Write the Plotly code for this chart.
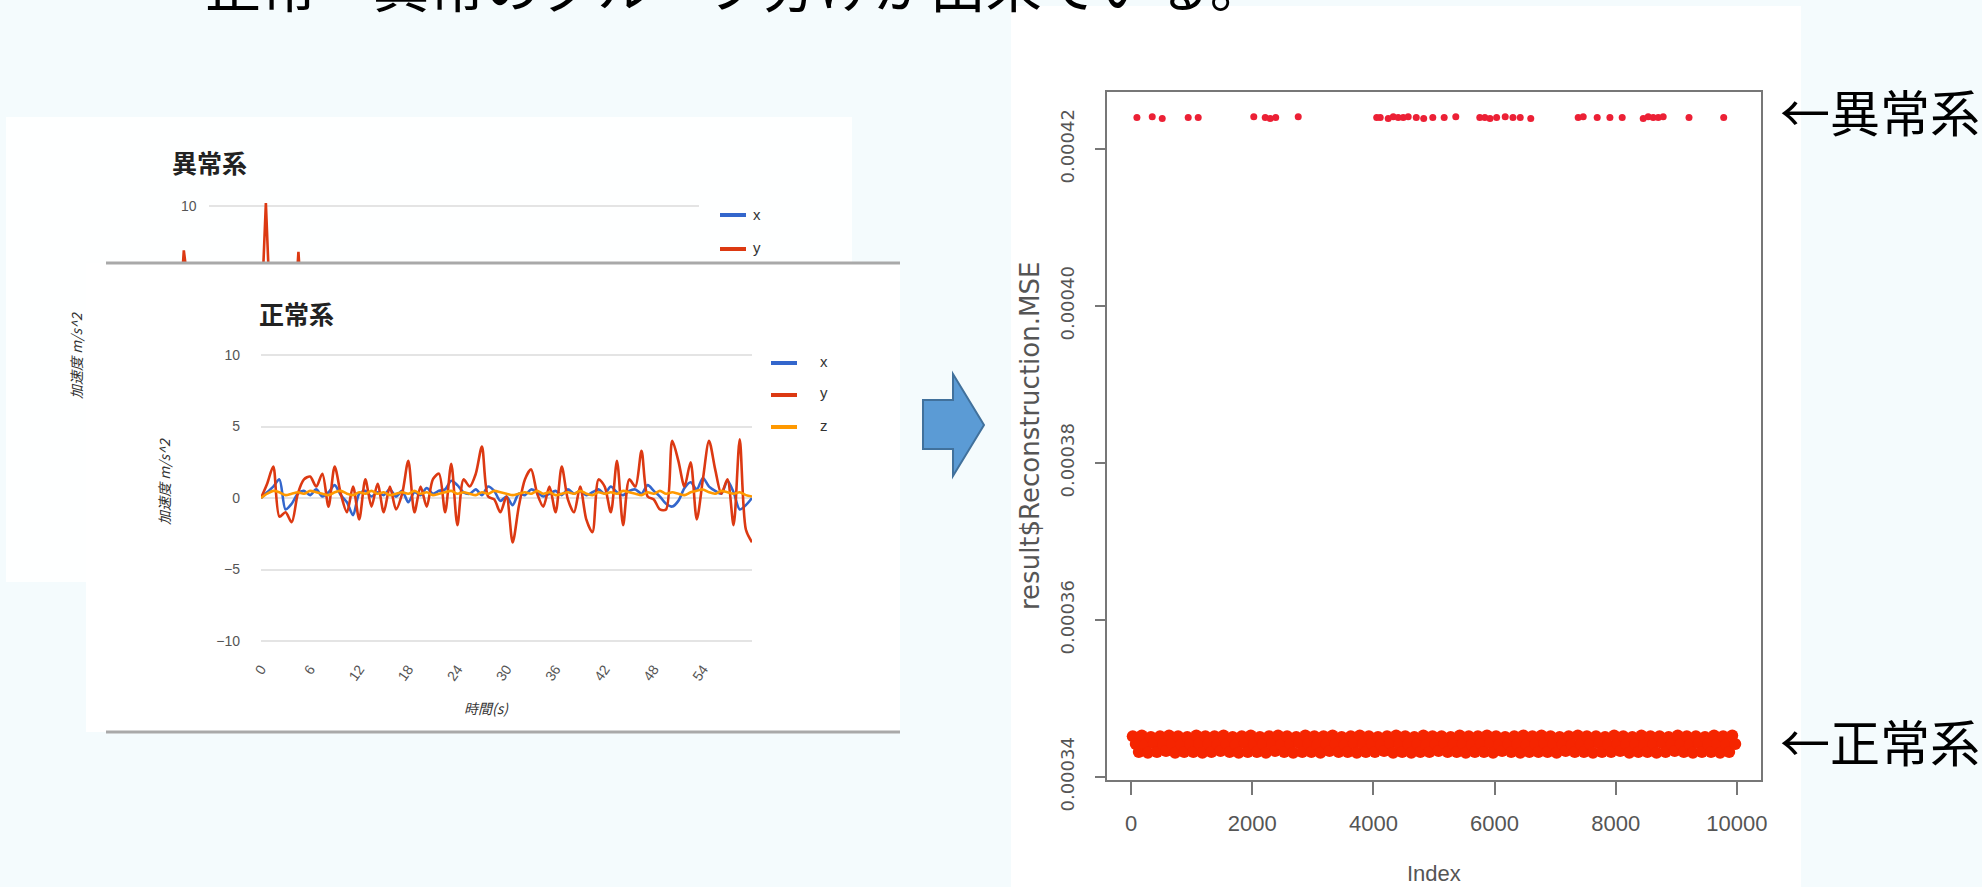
import plotly.graph_objects as go

W, H = 1982, 887

CJK = "Noto Sans CJK JP"
SANS = "Liberation Sans, Arial, sans-serif"
WIDE = "DejaVu Sans, Liberation Sans, sans-serif"
NARROW = "Liberation Sans Narrow, Arial Narrow, Liberation Sans, sans-serif"

BLUE, RED, ORANGE = "#3366CC", "#DC3912", "#FF9900"

# ---- 異常系 : acceleration of an anomalous run (only the spikes rise into view) ----
anom_t = [0.0, 0.3, 0.9, 1.6, 2.4, 9.7, 10.35, 11.0, 13.5, 14.1, 14.8, 30.0, 45.0, 60.0]
anom_acc_x = [0.0, 0.3, 0.6, 0.2, -0.3, 0.4, 0.9, 0.1, 0.5, 0.8, -0.2, 0.3, 0.1, 0.2]
anom_acc_y = [0.0, 1.1, 6.9, 0.7, -0.6, 0.5, 10.2, 0.3, 0.9, 6.8, -0.4, 0.6, -0.5, 0.1]
anom_grid = [10]

# ---- 正常系 : acceleration of a normal run ----
norm_t = [0, 0.75, 1.5, 2.25, 3, 3.75, 4.5, 5.25, 6, 6.75,
          7.5, 8.25, 9, 9.75, 10.5, 11.25, 12, 12.75, 13.5, 14.25,
          15, 15.75, 16.5, 17.25, 18, 18.75, 19.5, 20.25, 21, 21.75,
          22.5, 23.25, 24, 24.75, 25.5, 26.25, 27, 27.75, 28.5, 29.25,
          30, 30.75, 31.5, 32.25, 33, 33.75, 34.5, 35.25, 36, 36.75,
          37.5, 38.25, 39, 39.75, 40.5, 41.25, 42, 42.75, 43.5, 44.25,
          45, 45.75, 46.5, 47.25, 48, 48.75, 49.5, 50.25, 51, 51.75,
          52.5, 53.25, 54, 54.75, 55.5, 56.25, 57, 57.75, 58.5, 59.25,
          60]
norm_acc_x = [0.0, 0.4, 0.8, 1.3, -0.8, -0.4, 0.3, 0.5, 0.2, 0.6,
              0.1, 0.4, 0.9, 0.2, -0.3, -1.2, 0.3, 0.5, 0.1, 0.4,
              0.2, 0.6, 0.1, 0.5, -0.3, 0.4, 0.2, 0.7, 0.3, 0.5,
              0.6, 1.2, 0.9, 0.4, 0.3, 0.6, 0.2, 0.8, 0.5, -0.2,
              0.1, -0.5, 0.3, 0.2, 0.6, 0.4, 0.1, 0.3, 0.5, 0.2,
              0.6, 0.3, 0.5, 0.2, 0.4, 0.6, 0.3, 0.8, 0.4, 0.2,
              0.5, 0.6, 0.3, 0.9, 0.5, 0.1, -0.4, -0.6, -0.2, 0.7,
              1.1, 0.6, 1.4, 0.8, 0.5, 0.3, 1.2, 0.4, -0.8, -0.5,
              0.0]
norm_acc_y = [0.0, 1.0, 2.2, -1.3, -1.0, -1.7, 0.3, 1.3, 1.5, 0.8,
              1.7, -0.6, 2.2, 0.3, -1.0, 0.8, -1.5, 1.3, -0.6, 1.0,
              -1.0, 0.8, -0.8, 0.3, 2.6, -1.0, 0.8, -0.6, 1.3, 1.7,
              -1.0, 2.4, -1.9, 1.3, 0.8, 1.7, 3.6, 0.1, -0.1, -1.0,
              0.1, -3.1, -0.6, 1.3, 2.0, 0.3, -0.6, 0.8, -1.0, 2.2,
              -0.1, -1.0, 0.8, -1.5, -2.4, 1.3, 0.8, -1.0, 2.6, -1.9,
              1.3, 0.8, 3.3, 0.1, -0.1, -0.8, -0.8, 4.0, 2.6, 0.8,
              2.5, -1.5, 1.3, 4.0, 2.0, 0.3, 1.3, -1.9, 4.1, -2.2,
              -3.1]
norm_acc_z = [0.0, 0.3, 0.5, 0.4, 0.2, 0.3, 0.4, 0.3, 0.5, 0.4,
              0.3, 0.2, 0.4, 0.5, 0.3, 0.2, 0.4, 0.3, 0.5, 0.3,
              0.4, 0.2, 0.3, 0.4, 0.3, 0.5, 0.3, 0.4, 0.2, 0.3,
              0.4, 0.5, 0.3, 0.4, 0.3, 0.2, 0.4, 0.3, 0.5, 0.4,
              0.3, 0.2, 0.3, 0.4, 0.3, 0.5, 0.3, 0.4, 0.2, 0.3,
              0.4, 0.3, 0.5, 0.3, 0.2, 0.4, 0.3, 0.4, 0.3, 0.5,
              0.4, 0.3, 0.2, 0.4, 0.3, 0.5, 0.3, 0.4, 0.3, 0.2,
              0.4, 0.5, 0.6, 0.4, 0.3, 0.5, 0.4, 0.3, 0.4, 0.2,
              0.1]
time_ticks = [0, 6, 12, 18, 24, 30, 36, 42, 48, 54]
acc_ticks = [-10, -5, 0, 5, 10]

# ---- result$Reconstruction.MSE per index (values in units of 1e-6) ----
normal_index = list(range(25, 10000, 50))
normal_mse_e6 = [
    345.2, 344.2, 343.2, 345.3, 344.1, 343.1, 345.1, 344.3, 343.2, 345.2, 344.2, 343.3, 345.3, 344.2, 343.1,
    345.2, 344.1, 343.2, 345.1, 344.2, 343.2, 345.3, 344.3, 343.1, 345.2, 344.2, 343.2, 345.2, 344.1, 343.3,
    345.3, 344.2, 343.2, 345.1, 344.1, 343.1, 345.2, 344.3, 343.2, 345.3, 344.2, 343.2, 345.1, 344.2, 343.1,
    345.2, 344.2, 343.3, 345.3, 344.1, 343.2, 345.2, 344.2, 343.1, 345.1, 344.3, 343.2, 345.3, 344.2, 343.2,
    345.2, 344.1, 343.1, 345.2, 344.2, 343.3, 345.3, 344.2, 343.2, 345.1, 344.1, 343.2, 345.2, 344.3, 343.1,
    345.3, 344.2, 343.2, 345.2, 344.2, 343.2, 345.1, 344.1, 343.3, 345.2, 344.3, 343.1, 345.3, 344.2, 343.2,
    345.2, 344.2, 343.1, 345.1, 344.2, 343.2, 345.3, 344.1, 343.2, 345.2, 344.2, 343.3, 345.2, 344.3, 343.2,
    345.1, 344.2, 343.2, 345.3, 344.2, 343.1, 345.2, 344.1, 343.2, 345.2, 344.2, 343.2, 345.3, 344.3, 343.1,
    345.2, 344.1, 343.3, 345.1, 344.2, 343.2, 345.2, 344.2, 343.1, 345.3, 344.1, 343.2, 345.2, 344.2, 343.2,
    345.3, 344.3, 343.2, 345.2, 344.2, 343.1, 345.1, 344.2, 343.3, 345.2, 344.1, 343.2, 345.3, 344.2, 343.2,
    345.2, 344.2, 343.1, 345.2, 344.3, 343.2, 345.1, 344.1, 343.2, 345.3, 344.2, 343.3, 345.2, 344.2, 343.1,
    345.1, 344.2, 343.2, 345.3, 344.1, 343.2, 345.2, 344.2, 343.1, 345.2, 344.3, 343.2, 345.1, 344.2, 343.3,
    345.3, 344.2, 343.2, 345.2, 344.1, 343.1, 345.2, 344.3, 343.2, 345.1, 344.2, 343.2, 345.3, 344.2, 343.1,
    345.2, 344.1, 343.2, 345.3, 344.2,
]
anomaly_index = [94, 347, 512, 941, 1106, 2024, 2213, 2295, 2386, 2758,
                 4054, 4112, 4244, 4327, 4409, 4492, 4574, 4707, 4830, 4980,
                 5168, 5360, 5756, 5840, 5925, 6034, 6176, 6304, 6424, 6598,
                 7381, 7464, 7695, 7905, 8108, 8455, 8537, 8620, 8703, 8785,
                 9211, 9784]
anomaly_mse_e6 = [424.0, 424.1, 423.9, 424.0, 424.0, 424.1, 424.0, 423.9, 424.0, 424.1,
                  424.0, 424.0, 423.9, 424.1, 424.0, 424.0, 424.1, 424.0, 423.9, 424.0,
                  424.0, 424.1, 424.0, 424.0, 423.9, 424.0, 424.1, 424.0, 424.0, 423.9,
                  424.0, 424.1, 424.0, 424.0, 424.0, 423.9, 424.1, 424.0, 424.0, 424.1,
                  424.0, 424.0]
index_ticks = [0, 2000, 4000, 6000, 8000, 10000]
mse_ticks = [0.00034, 0.00036, 0.00038, 0.00040, 0.00042]
mse_tick_text = ["0.00034", "0.00036", "0.00038", "0.00040", "0.00042"]

normal_mse = [v * 1e-6 for v in normal_mse_e6]
anomaly_mse = [v * 1e-6 for v in anomaly_mse_e6]


def fx(p):
    """pixel column -> paper x"""
    return p / W


def fy(p):
    """pixel row -> paper y"""
    return 1 - p / H


fig = go.Figure()

gline = dict(width=2.6, shape="spline", smoothing=0.8)

# 異常系 chart
fig.add_trace(go.Scatter(x=anom_t, y=anom_acc_x, mode="lines", line=dict(color=BLUE, width=2.6),
                         xaxis="x", yaxis="y"))
fig.add_trace(go.Scatter(x=anom_t, y=anom_acc_y, mode="lines", line=dict(color=RED, width=2.6),
                         xaxis="x", yaxis="y"))

# 正常系 chart
fig.add_trace(go.Scatter(x=norm_t, y=norm_acc_x, mode="lines", line=dict(color=BLUE, **gline),
                         xaxis="x2", yaxis="y2"))
fig.add_trace(go.Scatter(x=norm_t, y=norm_acc_y, mode="lines", line=dict(color=RED, **gline),
                         xaxis="x2", yaxis="y2"))
fig.add_trace(go.Scatter(x=norm_t, y=norm_acc_z, mode="lines", line=dict(color=ORANGE, **gline),
                         xaxis="x2", yaxis="y2"))

# reconstruction MSE scatter
fig.add_trace(go.Scatter(x=normal_index, y=normal_mse, mode="markers",
                         marker=dict(color="#F52500", size=12, line=dict(width=0)),
                         xaxis="x3", yaxis="y3"))
fig.add_trace(go.Scatter(x=anomaly_index, y=anomaly_mse, mode="markers",
                         marker=dict(color="#EC2035", size=7, line=dict(width=0)),
                         xaxis="x3", yaxis="y3"))

shapes = []


def rect(x0, y0, x1, y1, color, layer="below"):
    shapes.append(dict(type="rect", xref="paper", yref="paper",
                       x0=fx(x0), x1=fx(x1), y0=fy(y1), y1=fy(y0),
                       fillcolor=color, line=dict(width=0), layer=layer))


def hline(x0, x1, y, color, width, layer="above"):
    shapes.append(dict(type="line", xref="paper", yref="paper",
                       x0=fx(x0), x1=fx(x1), y0=fy(y), y1=fy(y),
                       line=dict(color=color, width=width), layer=layer))


# page panels
rect(1011, 6, 1801, 887, "#FFFFFF")
rect(6, 117, 852, 263, "#FEFFFF")
rect(6, 263, 106, 582, "#FEFFFF")
rect(86, 263, 900, 732, "#FFFFFF")
hline(106, 900, 263, "#A9A9A9", 3)
hline(106, 900, 732, "#A9A9A9", 3)

# gridline of the 異常系 chart, tied to its value axis
for g in anom_grid:
    shapes.append(dict(type="line", xref="paper", yref="y", x0=fx(209), x1=fx(699), y0=g, y1=g,
                       line=dict(color="#E4E4E4", width=2), layer="below"))

# legend keys
hline(720, 746, 215, BLUE, 4)
hline(720, 746, 249, RED, 4)
hline(771, 797, 363, BLUE, 4)
hline(771, 797, 395, RED, 4)
hline(771, 797, 427, ORANGE, 4)

# block arrow between the panels
arrow_pts = [(923, 400), (953, 400), (953, 374), (984, 425), (953, 476), (953, 449), (923, 449)]
path = "M " + " L ".join(f"{fx(a):.5f},{fy(b):.5f}" for a, b in arrow_pts) + " Z"
shapes.append(dict(type="path", xref="paper", yref="paper", path=path,
                   fillcolor="#5B9BD5", line=dict(color="#41719C", width=2), layer="above"))

annotations = []


def label(text, x, y, size, color="#222", family=CJK, xanchor="center", yanchor="middle",
          angle=0, style="normal"):
    annotations.append(dict(text=text, x=fx(x), y=fy(y), xref="paper", yref="paper",
                            xanchor=xanchor, yanchor=yanchor, showarrow=False, textangle=angle,
                            font=dict(family=family, size=size, color=color, style=style)))


label("正常・異常のグループ分けが出来ている。", 203, -18, 56, "#000000", xanchor="left")
label("<b>異常系</b>", 170, 162, 25, "#222", xanchor="left")
label("<b>正常系</b>", 257, 313, 25, "#222", xanchor="left")
label("x", 751, 214, 15, "#333", family=SANS, xanchor="left")
label("y", 751, 247, 15, "#333", family=SANS, xanchor="left")
label("x", 818, 362, 15, "#333", family=SANS, xanchor="left")
label("y", 818, 393, 15, "#333", family=SANS, xanchor="left")
label("z", 818, 425, 15, "#333", family=SANS, xanchor="left")
label("加速度 m/s^2", 76, 356, 14, "#333", angle=-90, style="italic")
label("加速度 m/s^2", 164, 482, 14, "#333", angle=-90, style="italic")
label("時間(s)", 486, 708, 14, "#333", style="italic")
label("result$Reconstruction.MSE", 1030, 436, 26, "#555", family=WIDE, angle=-90)
label("Index", 1434, 873, 22, "#555", family=NARROW)
label("←異常系", 1778, 110, 50, "#000000", xanchor="left")
label("←正常系", 1778, 740, 50, "#000000", xanchor="left")

grid = "#E4E4E4"
tickfont = dict(family=SANS, size=14, color="#555")

fig.update_layout(
    width=W, height=H, margin=dict(l=0, r=0, t=0, b=0, autoexpand=False),
    paper_bgcolor="#F4FBFD", plot_bgcolor="#FFFFFF",
    showlegend=False, font=dict(family=SANS),
    shapes=shapes, annotations=annotations,
    xaxis=dict(domain=[fx(176), fx(697)], anchor="y", range=[0, 60], visible=False,
               automargin=False),
    yaxis=dict(domain=[fy(263), fy(190)], anchor="x", range=[6.01, 11.12],
               tickvals=anom_grid, showgrid=False, automargin=False,
               zeroline=False, showline=False, ticks="", ticklabelposition="inside",
               ticklabelstandoff=2, tickfont=tickfont),
    xaxis2=dict(domain=[fx(261), fx(752)], anchor="y2", range=[0, 60], automargin=False,
                tickvals=time_ticks, tickangle=-55, showgrid=False, zeroline=False,
                showline=False, ticks="", ticklabelstandoff=12, tickfont=tickfont),
    yaxis2=dict(domain=[fy(645.3), fy(350.7)], anchor="x2", range=[-10.3, 10.3], automargin=False,
                tickvals=acc_ticks, showgrid=True, gridcolor=grid, gridwidth=2,
                zeroline=False, showline=False, ticks="", ticklabelstandoff=20,
                tickfont=tickfont),
    xaxis3=dict(domain=[fx(1107), fx(1761)], anchor="y3", range=[-400, 10400], automargin=False,
                tickvals=index_ticks, ticktext=[str(v) for v in index_ticks],
                ticks="outside", ticklen=13, tickwidth=1.5, tickcolor="#777",
                showline=True, linecolor="#777", linewidth=2, mirror=True,
                showgrid=False, zeroline=False, ticklabelstandoff=10,
                tickfont=dict(family=NARROW, size=22, color="#555")),
    yaxis3=dict(domain=[fy(780), fy(92)], anchor="x3", range=[339.62e-6, 427.26e-6],
                automargin=False,
                tickvals=mse_ticks, ticktext=mse_tick_text, tickangle=-90,
                ticks="outside", ticklen=10, tickwidth=1.5, tickcolor="#777",
                showline=True, linecolor="#777", linewidth=2, mirror=True,
                showgrid=False, zeroline=False, ticklabelstandoff=14,
                tickfont=dict(family=WIDE, size=18, color="#555")),
)

fig.write_html("out.html")
